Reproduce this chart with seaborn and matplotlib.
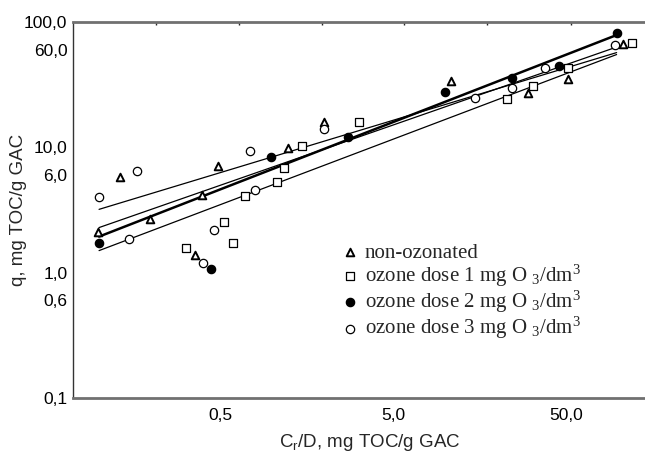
import matplotlib
matplotlib.use('Agg')
import numpy as np
import pandas as pd
import matplotlib.pyplot as plt
import seaborn as sns
from matplotlib.ticker import FixedLocator, FixedFormatter, NullLocator

# Data (log-log isotherms)
tri_x = [0.099, 0.132, 0.197, 0.358, 0.393, 0.487, 1.24, 2.0, 10.8, 30.2, 51.3, 107]
tri_y = [2.13, 5.75, 2.70, 1.39, 4.13, 7.05, 9.82, 15.8, 33.7, 27.0, 35.0, 66.7]

sq_x = [0.318, 0.527, 0.594, 0.70, 1.07, 1.17, 1.49, 3.18, 22.8, 32.2, 51.3, 120]
sq_y = [1.58, 2.56, 1.74, 4.06, 5.25, 6.79, 10.2, 15.8, 24.2, 30.8, 42.9, 67.9]

dot_x = [0.10, 0.443, 0.986, 2.75, 10.0, 24.4, 45.5, 98.6]
dot_y = [1.74, 1.06, 8.32, 12.0, 27.5, 35.6, 44.5, 81.7]

circ_x = [0.10, 0.149, 0.166, 0.40, 0.462, 0.745, 0.797, 2.0, 14.9, 24.4, 37.8, 96]
circ_y = [3.98, 1.84, 6.43, 1.20, 2.21, 9.29, 4.53, 13.9, 24.7, 29.6, 42.9, 65.5]

# Fitted lines, end points
fit_x = [0.1, 98]
tri_fit = [3.2, 57]
sq_fit = [1.5, 55]
dot_fit = [1.94, 78.7]
circ_fit = [2.29, 63.1]

y_ticks = [0.1, 0.6, 1, 6, 10, 60, 100]
y_labels = ['0,1', '0,6', '1,0', '6,0', '10,0', '60,0', '100,0']
x_ticks = [0.5, 5, 50]
x_labels = ['0,5', '5,0', '50,0']
top_ticks = [0.213, 0.644, 1.94, 5.79, 17.5, 53.4]

labels = ['non-ozonated',
          'ozone dose 1 mg O $_3$/dm$^3$',
          'ozone dose 2 mg O $_3$/dm$^3$',
          'ozone dose 3 mg O $_3$/dm$^3$']

sns.set_style('white')
plt.rcParams['font.family'] = ['Liberation Sans', 'DejaVu Sans']
plt.rcParams['mathtext.default'] = 'regular'

fig = plt.figure(figsize=(6.45, 4.55), dpi=100)
ax = fig.add_axes([73 / 645, 1 - 398 / 455, (645 - 73) / 645, (398 - 22) / 455])
ax.set_xscale('log')
ax.set_yscale('log')

# fitted lines
for fy, lw in [(tri_fit, 0.9), (sq_fit, 0.9), (circ_fit, 0.9), (dot_fit, 1.8)]:
    sns.lineplot(x=fit_x, y=fy, ax=ax, color='black', lw=lw, zorder=2)

# points
ms = 36
sns.scatterplot(x=tri_x, y=tri_y, ax=ax, marker='^', s=30, facecolor='white',
                edgecolor='black', linewidth=1.4, label=labels[0], zorder=3)
sns.scatterplot(x=sq_x, y=sq_y, ax=ax, marker='s', s=ms, facecolor='white',
                edgecolor='black', linewidth=0.9, label=labels[1], zorder=3)
sns.scatterplot(x=dot_x, y=dot_y, ax=ax, marker='o', s=ms, facecolor='black',
                edgecolor='black', linewidth=0.9, label=labels[2], zorder=3)
sns.scatterplot(x=circ_x, y=circ_y, ax=ax, marker='o', s=ms, facecolor='white',
                edgecolor='black', linewidth=0.9, label=labels[3], zorder=3)

ax.set_xlim(0.0707, 143)
ax.set_ylim(0.1, 100)

ax.xaxis.set_major_locator(FixedLocator(x_ticks))
ax.xaxis.set_major_formatter(FixedFormatter(x_labels))
ax.yaxis.set_major_locator(FixedLocator(y_ticks))
ax.yaxis.set_major_formatter(FixedFormatter(y_labels))
ax.xaxis.set_minor_locator(NullLocator())
ax.yaxis.set_minor_locator(NullLocator())

ax.tick_params(axis='x', direction='in', length=2.5, width=1, pad=7,
               labelsize=12.5, colors='black')
ax.tick_params(axis='y', direction='out', length=3, width=1, pad=1,
               labelsize=12.5, colors='black')

top = ax.secondary_xaxis('top')
top.xaxis.set_major_locator(FixedLocator(top_ticks))
top.xaxis.set_minor_locator(NullLocator())
top.xaxis.set_major_formatter(FixedFormatter([''] * len(top_ticks)))
top.tick_params(direction='in', length=2.5, width=1)
top.spines['top'].set_visible(False)

for side in ['top', 'bottom']:
    ax.spines[side].set_color('#707070')
    ax.spines[side].set_linewidth(2)
ax.spines['left'].set_color('#333333')
ax.spines['left'].set_linewidth(1)
ax.spines['right'].set_visible(False)

ax.set_xlabel('C$_r$/D, mg TOC/g GAC', fontsize=13.5)
ax.set_ylabel('q, mg TOC/g GAC', fontsize=13.5)
ax.xaxis.set_label_coords(0.519, -0.09)
ax.yaxis.set_label_coords(-0.08, 0.5)

ax.legend(loc='upper left', bbox_to_anchor=(342 / 645, 1 - 243 / 455),
          bbox_transform=fig.transFigure, frameon=False,
          prop={'family': 'Liberation Serif', 'size': 15},
          handletextpad=0.3, labelspacing=0.0, borderpad=0, borderaxespad=0,
          handlelength=0.8)

fig.savefig('out.png', dpi=100)
